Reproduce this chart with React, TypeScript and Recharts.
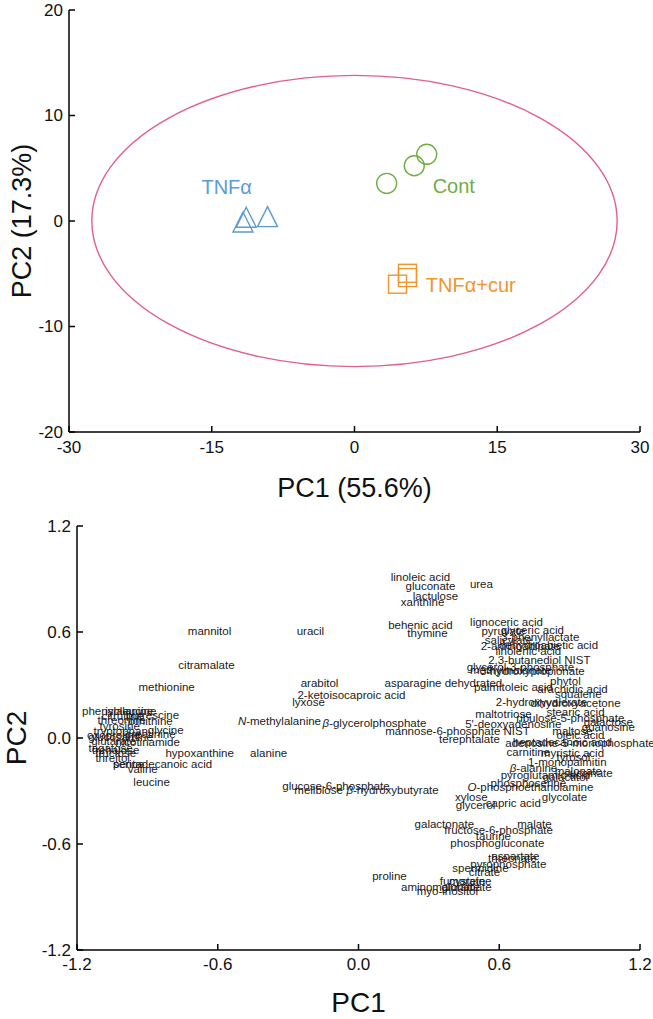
import React from 'react';
import { ScatterChart, Scatter, XAxis, YAxis, ReferenceArea, Label } from 'recharts';

const FONT = '"Liberation Sans", Arial, Helvetica, sans-serif';
const BLUE = '#5B9BD5';
const GREEN = '#70AD47';
const ORANGE = '#F0962E';
const PINK = '#E0608A';

// ---------- Scores plot (top) ----------
const scoreTicksX = [-30, -15, 0, 15, 30];
const scoreTicksY = [-20, -10, 0, 10, 20];
const tnfScores = [
  { x: -11.72, y: -0.09 },
  { x: -11.38, y: 0.35 },
  { x: -9.14, y: 0.41 },
];
const contScores = [
  { x: 3.38, y: 3.57 },
  { x: 6.28, y: 5.24 },
  { x: 7.59, y: 6.32 },
];
const curScores = [
  { x: 4.52, y: -5.99 },
  { x: 5.57, y: -4.96 },
  { x: 5.57, y: -5.36 },
];
const groupNames = ['TNFα', 'Cont', 'TNFα+cur'];
const groupLabelPC1 = [-13.43, 10.43, 12.22];
const groupLabelPC2 = [3.25, 3.31, -6.07];
const groupColors = [BLUE, GREEN, ORANGE];
const ellipseHalfPC1 = 27.6;
const ellipseHalfPC2 = 13.8;

// ---------- Loadings plot (bottom) ----------
const loadingTicks = [-1.2, -0.6, 0, 0.6, 1.2];

const loadingsLeft: [string, number, number][] = [
  ['phenylalanine', -1.027, 0.153],
  ['isoleucine', -0.971, 0.153],
  ['citrulline', -1.006, 0.125],
  ['putrescine', -0.878, 0.13],
  ['threonine', -1.01, 0.102],
  ['ornithine', -0.886, 0.096],
  ['tyrosine', -1.018, 0.068],
  ['tryptophan', -1.014, 0.04],
  ['glycine', -0.822, 0.045],
  ['creatinine', -0.886, 0.023],
  ['oxoproline', -1.044, 0.017],
  ['glucosamine', -1.014, 0.006],
  ['glutarate', -1.044, -0.017],
  ['nicotinamide', -0.899, -0.023],
  ['tagatose', -1.057, -0.057],
  ['trehalose', -1.035, -0.068],
  ['fructose', -1.035, -0.085],
  ['threitol', -1.048, -0.113],
  ['serine', -0.98, -0.147],
  ['pentadecanoic acid', -0.835, -0.147],
  ['valine', -0.92, -0.175],
  ['leucine', -0.882, -0.249],
  ['hypoxanthine', -0.677, -0.085],
  ['alanine', -0.383, -0.085],
  ['methionine', -0.818, 0.289],
  ['citramalate', -0.648, 0.413],
  ['mannitol', -0.635, 0.606],
];

const loadingsMiddle: [string, number, number][] = [
  ['uracil', -0.205, 0.606],
  ['arabitol', -0.166, 0.311],
  ['2-ketoisocaproic acid', -0.03, 0.243],
  ['lyxose', -0.213, 0.204],
  ['N-methylalanine', -0.337, 0.096],
  ['β-glycerolphosphate', 0.068, 0.085],
  ['glucose-6-phosphate', -0.096, -0.272],
  ['melibiose', -0.17, -0.294],
  ['β-hydroxybutyrate', 0.145, -0.294],
  ['linoleic acid', 0.264, 0.911],
  ['gluconate', 0.307, 0.86],
  ['lactulose', 0.328, 0.804],
  ['xanthine', 0.273, 0.77],
  ['urea', 0.524, 0.872],
  ['behenic acid', 0.264, 0.64],
  ['thymine', 0.294, 0.594],
  ['asparagine dehydrated', 0.362, 0.311],
  ['mannose-6-phosphate NIST', 0.422, 0.04],
  ['terephtalate', 0.473, -0.006],
  ['proline', 0.132, -0.781],
];

const loadingsRightUpper: [string, number, number][] = [
  ['lignoceric acid', 0.631, 0.656],
  ['pyruvate', 0.618, 0.606],
  ['glyceric acid', 0.741, 0.611],
  ['salicylate', 0.639, 0.555],
  ['3-phenyllactate', 0.775, 0.572],
  ['2-aminoadipate', 0.69, 0.521],
  ['dehydroabietic acid', 0.81, 0.526],
  ['linolenic acid', 0.724, 0.492],
  ['2,3-butanediol NIST', 0.771, 0.441],
  ['methylmalonate', 0.648, 0.385],
  ['glycerol-3-phosphate', 0.69, 0.402],
  ['3-hydroxypropionate', 0.741, 0.379],
  ['palmitoleic acid', 0.66, 0.289],
  ['phytol', 0.882, 0.323],
  ['arachidic acid', 0.912, 0.277],
  ['squalene', 0.937, 0.249],
  ['2-hydroxyvalerate', 0.78, 0.204],
  ['dihydroxyacetone', 0.925, 0.198],
  ['stearic acid', 0.925, 0.147],
  ['maltotriose', 0.618, 0.136],
  ['ribulose-5-phosphate', 0.903, 0.113],
  ["5'-deoxyadenosine", 0.66, 0.079],
  ['galactose', 1.065, 0.091],
  ['guanosine', 1.065, 0.062],
  ['maltose', 0.912, 0.04],
  ['oleic acid', 0.946, 0.017],
];

const loadingsRightLower: [string, number, number][] = [
  ['heptadecanoic acid', 0.869, -0.023],
  ['adenosine-5-monophosphate', 0.944, -0.028],
  ['carnitine', 0.724, -0.079],
  ['myristic acid', 0.912, -0.085],
  ['tyrosol', 0.916, -0.108],
  ['1-monopalmitin', 0.89, -0.136],
  ['β-alanine', 0.746, -0.17],
  ['malonate', 0.937, -0.187],
  ['succinate', 0.98, -0.198],
  ['pyroglutamic acid', 0.797, -0.209],
  ['galactitol', 0.882, -0.221],
  ['phosphoserine', 0.724, -0.255],
  ['O-phosphoethanolamine', 0.733, -0.277],
  ['glycolate', 0.878, -0.334],
  ['xylose', 0.481, -0.334],
  ['capric acid', 0.66, -0.368],
  ['glycerol', 0.499, -0.379],
  ['galactonate', 0.366, -0.487],
  ['malate', 0.75, -0.487],
  ['fructose-6-phosphate', 0.597, -0.521],
  ['taurine', 0.575, -0.555],
  ['phosphogluconate', 0.592, -0.594],
  ['aspartate', 0.669, -0.668],
  ['threonate', 0.656, -0.679],
  ['pyrophosphate', 0.639, -0.713],
  ['spermidine', 0.52, -0.736],
  ['citrate', 0.537, -0.758],
  ['fumarate', 0.443, -0.809],
  ['cysteine', 0.477, -0.809],
  ['aminomalonate', 0.349, -0.843],
  ['glutamate', 0.46, -0.843],
  ['myo-inositol', 0.379, -0.866],
];

const loadingData = [...loadingsLeft, ...loadingsMiddle, ...loadingsRightUpper, ...loadingsRightLower].map(
  ([name, x, y]) => ({ name, x, y })
);
const groupLabelData = groupNames.map((name, i) => ({
  name,
  x: groupLabelPC1[i],
  y: groupLabelPC2[i],
  color: groupColors[i],
}));

// ---------- shapes & ticks ----------
const TICK_LEN = 6;
const AXIS_W = 1.5;

const makeBottomTick = (fmt: (v: number) => string, dy: number) => (p: any) => (
  <g>
    <line x1={p.x} y1={p.y} x2={p.x} y2={p.y - TICK_LEN} stroke="#000" strokeWidth={AXIS_W} />
    <text x={p.x} y={p.y + dy} textAnchor="middle" fontSize={17} fontFamily={FONT} fill="#111">
      {fmt(p.payload.value)}
    </text>
  </g>
);
const makeLeftTick = (fmt: (v: number) => string) => (p: any) => (
  <g>
    <line x1={p.x} y1={p.y} x2={p.x + TICK_LEN} y2={p.y} stroke="#000" strokeWidth={AXIS_W} />
    <text x={p.x - 6} y={p.y} textAnchor="end" dominantBaseline="central" fontSize={17} fontFamily={FONT} fill="#111">
      {fmt(p.payload.value)}
    </text>
  </g>
);
const TopTick = (p: any) => (
  <line x1={p.x} y1={p.y} x2={p.x} y2={p.y + TICK_LEN} stroke="#000" strokeWidth={AXIS_W} />
);
const RightTick = (p: any) => (
  <line x1={p.x} y1={p.y} x2={p.x - TICK_LEN} y2={p.y} stroke="#000" strokeWidth={AXIS_W} />
);

const fmtInt = (v: number) => String(v);
const fmtOne = (v: number) => v.toFixed(1);

const TriangleShape = (p: any) => (
  <polygon
    points={`${p.cx},${p.cy - 10} ${p.cx - 10},${p.cy + 10} ${p.cx + 10},${p.cy + 10}`}
    fill="none"
    stroke={BLUE}
    strokeWidth={1.4}
  />
);
const CircleShape = (p: any) => <circle cx={p.cx} cy={p.cy} r={10} fill="none" stroke={GREEN} strokeWidth={1.4} />;
const SquareShape = (p: any) => (
  <rect x={p.cx - 9} y={p.cy - 9} width={18} height={18} fill="none" stroke={ORANGE} strokeWidth={1.4} />
);
const GroupLabelShape = (p: any) => (
  <text
    x={p.cx}
    y={p.cy}
    textAnchor="middle"
    dominantBaseline="central"
    fontSize={20}
    fontFamily={FONT}
    fill={p.payload.color}
  >
    {p.payload.name}
  </text>
);

const renderName = (name: string) => {
  const m = name.match(/^(β|N|O)-(.*)$/);
  if (m) {
    return (
      <>
        <tspan fontStyle="italic">{m[1]}</tspan>
        {'-' + m[2]}
      </>
    );
  }
  return name;
};

const LoadingLabelShape = (p: any) => (
  <text
    x={p.cx}
    y={p.cy}
    textAnchor="middle"
    dominantBaseline="central"
    fontSize={11.5}
    fontFamily={FONT}
    fill="#1a1a1a"
  >
    {renderName(p.payload.name)}
  </text>
);

const EllipseShape = (p: any) => {
  const w = Math.abs(p.width);
  const h = Math.abs(p.height);
  const x = Math.min(p.x, p.x + p.width);
  const y = Math.min(p.y, p.y + p.height);
  return (
    <ellipse cx={x + w / 2} cy={y + h / 2} rx={w / 2} ry={h / 2} fill="none" stroke={PINK} strokeWidth={1.4} />
  );
};

const yTitle = (text: string, cxPos: number, size: number) => (p: any) => {
  const vb = p.viewBox || { x: 0, y: 0, width: 0, height: 0 };
  const cy = vb.y + vb.height / 2;
  return (
    <text
      x={cxPos}
      y={cy}
      transform={`rotate(-90 ${cxPos} ${cy})`}
      textAnchor="middle"
      dominantBaseline="central"
      fontSize={size}
      fontFamily={FONT}
      fill="#111"
    >
      {text}
    </text>
  );
};
const xTitle = (text: string, dy: number, size: number) => (p: any) => {
  const vb = p.viewBox || { x: 0, y: 0, width: 0, height: 0 };
  return (
    <text x={vb.x + vb.width / 2} y={vb.y + dy} textAnchor="middle" fontSize={size} fontFamily={FONT} fill="#111">
      {text}
    </text>
  );
};

export default function App() {
  return (
    <div style={{ position: 'absolute', left: 0, top: 0, width: 653, height: 1019, background: '#fff' }}>
      <ScatterChart width={653} height={509} margin={{ top: 10, right: 13, bottom: 0, left: 0 }}>
        <XAxis
          xAxisId="b"
          type="number"
          dataKey="x"
          domain={[-30, 30]}
          ticks={scoreTicksX}
          interval={0}
          height={77}
          tickSize={0}
          tickMargin={0}
          tickLine={false}
          axisLine={{ stroke: '#000', strokeWidth: AXIS_W }}
          tick={makeBottomTick(fmtInt, 21)}
        >
          <Label content={xTitle('PC1 (55.6%)', 65, 27)} />
        </XAxis>
        <XAxis
          xAxisId="t"
          orientation="top"
          type="number"
          dataKey="x"
          domain={[-30, 30]}
          ticks={scoreTicksX}
          interval={0}
          height={0}
          tickSize={0}
          tickMargin={0}
          tickLine={false}
          axisLine={{ stroke: '#000', strokeWidth: AXIS_W }}
          tick={TopTick}
        />
        <YAxis
          yAxisId="l"
          type="number"
          dataKey="y"
          domain={[-20, 20]}
          ticks={scoreTicksY}
          interval={0}
          width={69}
          tickSize={0}
          tickMargin={0}
          tickLine={false}
          axisLine={{ stroke: '#000', strokeWidth: AXIS_W }}
          tick={makeLeftTick(fmtInt)}
        >
          <Label content={yTitle('PC2 (17.3%)', 22, 27)} />
        </YAxis>
        <YAxis
          yAxisId="r"
          orientation="right"
          type="number"
          dataKey="y"
          domain={[-20, 20]}
          ticks={scoreTicksY}
          interval={0}
          width={0}
          tickSize={0}
          tickMargin={0}
          tickLine={false}
          axisLine={{ stroke: '#000', strokeWidth: AXIS_W }}
          tick={RightTick}
        />
        <ReferenceArea
          xAxisId="b"
          yAxisId="l"
          x1={-ellipseHalfPC1}
          x2={ellipseHalfPC1}
          y1={-ellipseHalfPC2}
          y2={ellipseHalfPC2}
          shape={EllipseShape}
        />
        <Scatter xAxisId="b" yAxisId="l" data={tnfScores} shape={TriangleShape} isAnimationActive={false} />
        <Scatter xAxisId="b" yAxisId="l" data={contScores} shape={CircleShape} isAnimationActive={false} />
        <Scatter xAxisId="b" yAxisId="l" data={curScores} shape={SquareShape} isAnimationActive={false} />
        <Scatter xAxisId="b" yAxisId="l" data={groupLabelData} shape={GroupLabelShape} isAnimationActive={false} />
      </ScatterChart>

      <ScatterChart width={653} height={510} margin={{ top: 17, right: 13, bottom: 0, left: 0 }}>
        <XAxis
          xAxisId="b"
          type="number"
          dataKey="x"
          domain={[-1.2, 1.2]}
          ticks={loadingTicks}
          interval={0}
          height={69}
          tickSize={0}
          tickMargin={0}
          tickLine={false}
          axisLine={{ stroke: '#000', strokeWidth: AXIS_W }}
          tick={makeBottomTick(fmtOne, 20)}
        >
          <Label content={xTitle('PC1', 62, 28)} />
        </XAxis>
        <XAxis
          xAxisId="t"
          orientation="top"
          type="number"
          dataKey="x"
          domain={[-1.2, 1.2]}
          ticks={loadingTicks}
          interval={0}
          height={0}
          tickSize={0}
          tickMargin={0}
          tickLine={false}
          axisLine={{ stroke: '#000', strokeWidth: AXIS_W }}
          tick={TopTick}
        />
        <YAxis
          yAxisId="l"
          type="number"
          dataKey="y"
          domain={[-1.2, 1.2]}
          ticks={loadingTicks}
          interval={0}
          width={77}
          tickSize={0}
          tickMargin={0}
          tickLine={false}
          axisLine={{ stroke: '#000', strokeWidth: AXIS_W }}
          tick={makeLeftTick(fmtOne)}
        >
          <Label content={yTitle('PC2', 16, 28)} />
        </YAxis>
        <YAxis
          yAxisId="r"
          orientation="right"
          type="number"
          dataKey="y"
          domain={[-1.2, 1.2]}
          ticks={loadingTicks}
          interval={0}
          width={0}
          tickSize={0}
          tickMargin={0}
          tickLine={false}
          axisLine={{ stroke: '#000', strokeWidth: AXIS_W }}
          tick={RightTick}
        />
        <Scatter xAxisId="b" yAxisId="l" data={loadingData} shape={LoadingLabelShape} isAnimationActive={false} />
      </ScatterChart>
    </div>
  );
}
